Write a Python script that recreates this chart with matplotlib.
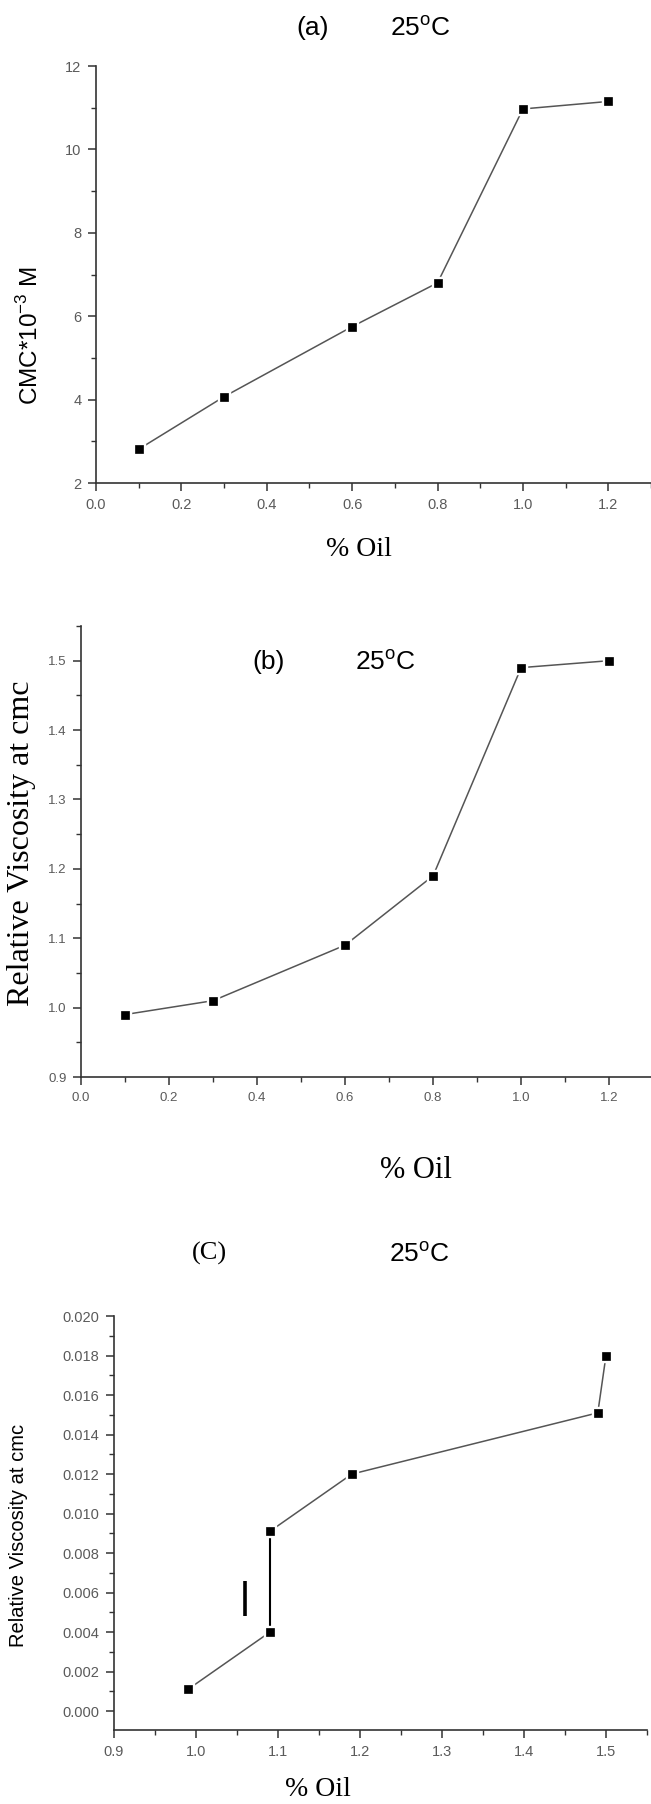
import matplotlib
matplotlib.use("Agg")
import matplotlib.pyplot as plt
from matplotlib import font_manager
from matplotlib.ticker import MultipleLocator, FormatStrFormatter

# ---------------- data ----------------
oil_a = [0.1, 0.3, 0.6, 0.8, 1.0, 1.2]
cmc_a = [2.81, 4.07, 5.75, 6.80, 10.97, 11.15]

oil_b = [0.1, 0.3, 0.6, 0.8, 1.0, 1.2]
visc_b = [0.99, 1.01, 1.09, 1.19, 1.49, 1.50]

oil_c = [0.99, 1.09, 1.09, 1.19, 1.49, 1.50]
visc_c = [0.0011, 0.0040, 0.0091, 0.0120, 0.0151, 0.0180]

stray_x = [1.06, 1.06]
stray_y = [0.0048, 0.0066]

title_labels = ["(a)", "(b)", "(C)"]
temp_label = r"25$^{\mathsf{o}}$C"

# ---------------- fonts ----------------
names = {f.name for f in font_manager.fontManager.ttflist}
narrow = "Liberation Sans Narrow" if "Liberation Sans Narrow" in names else "Liberation Sans"
SANS = "Liberation Sans"
SERIF = "Liberation Serif"

plt.rcParams["font.family"] = [SANS, "DejaVu Sans"]
plt.rcParams["mathtext.fontset"] = "custom"
plt.rcParams["mathtext.rm"] = SANS
plt.rcParams["mathtext.sf"] = narrow

W, H = 651, 1804
fig = plt.figure(figsize=(W / 100, H / 100), dpi=100)


def px_axes(left, right, top, bottom):
    return fig.add_axes([left / W, 1 - bottom / H, (right - left) / W, (bottom - top) / H])


def style(ax, lsize):
    for s in ("top", "right"):
        ax.spines[s].set_visible(False)
    for s in ("left", "bottom"):
        ax.spines[s].set_color("#333333")
        ax.spines[s].set_linewidth(1.2)
    ax.tick_params(which="major", direction="out", length=6, width=1.1,
                   color="#333333", labelsize=lsize, labelcolor="#5a5a5a", pad=4.5)
    ax.tick_params(which="minor", direction="out", length=3.5, width=1.0,
                   color="#333333")
    for lab in ax.get_xticklabels() + ax.get_yticklabels():
        lab.set_fontfamily(SANS)


def draw_series(ax, x, y, lc="#555555"):
    ax.plot(x, y, color=lc, lw=1.1, zorder=2, solid_capstyle="butt")
    ax.plot(x, y, ls="none", marker="s", ms=8.0, mfc="white", mec="white", zorder=3)
    ax.plot(x, y, ls="none", marker="s", ms=5.2, mfc="black", mec="black", mew=0.5, zorder=4)


def ftext(x, y, s, **kw):
    fig.text(x / W, 1 - y / H, s, ha="center", va="center", **kw)


# ---------------- panel (a) ----------------
ax1 = px_axes(96, 651, 66, 483)
draw_series(ax1, oil_a, cmc_a)
ax1.set_xlim(0, 1.3)
ax1.set_ylim(2, 12)
ax1.xaxis.set_major_locator(MultipleLocator(0.2))
ax1.xaxis.set_minor_locator(MultipleLocator(0.1))
ax1.yaxis.set_major_locator(MultipleLocator(2))
ax1.yaxis.set_minor_locator(MultipleLocator(1))
ax1.xaxis.set_major_formatter(FormatStrFormatter("%.1f"))
ax1.yaxis.set_major_formatter(FormatStrFormatter("%d"))
style(ax1, 10.5)

ftext(313, 28, title_labels[0], fontsize=19, family=narrow)
ftext(420, 28, temp_label, fontsize=19, family=narrow)
ftext(30, 336, r"CMC*10$^{\mathrm{-3}}$ M", fontsize=17.5, rotation=90, family=SANS)
ftext(359, 550, "% Oil", fontsize=20, family=SERIF)

# ---------------- panel (b) ----------------
ax2 = px_axes(81, 651, 626, 1077)
draw_series(ax2, oil_b, visc_b)
ax2.set_xlim(0, 1.295)
ax2.set_ylim(0.9, 1.55)
ax2.xaxis.set_major_locator(MultipleLocator(0.2))
ax2.xaxis.set_minor_locator(MultipleLocator(0.1))
ax2.yaxis.set_major_locator(MultipleLocator(0.1))
ax2.yaxis.set_minor_locator(MultipleLocator(0.05))
ax2.xaxis.set_major_formatter(FormatStrFormatter("%.1f"))
ax2.yaxis.set_major_formatter(FormatStrFormatter("%.1f"))
style(ax2, 9.5)

ftext(269, 662, title_labels[1], fontsize=19, family=narrow)
ftext(385, 662, temp_label, fontsize=19, family=narrow)
ftext(22, 843, "Relative Viscosity at cmc", fontsize=23, rotation=90, family=SERIF)
ftext(416, 1170, "% Oil", fontsize=22, family=SERIF)

# ---------------- panel (c) ----------------
ax3 = px_axes(114, 647, 1316, 1730)
draw_series(ax3, oil_c, visc_c)
ax3.plot(oil_c[1:3], visc_c[1:3], color="black", lw=1.5, zorder=2.5)
ax3.plot(stray_x, stray_y, color="black", lw=2.6, solid_capstyle="butt", zorder=2)
ax3.set_xlim(0.9, 1.55)
ax3.set_ylim(-0.00095, 0.020)
ax3.xaxis.set_major_locator(MultipleLocator(0.1))
ax3.xaxis.set_minor_locator(MultipleLocator(0.05))
ax3.yaxis.set_major_locator(MultipleLocator(0.002))
ax3.yaxis.set_minor_locator(MultipleLocator(0.001))
ax3.xaxis.set_major_formatter(FormatStrFormatter("%.1f"))
ax3.yaxis.set_major_formatter(FormatStrFormatter("%.3f"))
style(ax3, 10.5)

ftext(209, 1253, title_labels[2], fontsize=19, family=SERIF)
ftext(419, 1254, temp_label, fontsize=19, family=narrow)
ftext(19, 1535, "Relative Viscosity at cmc", fontsize=14.5, rotation=90, family=SANS)
ftext(318, 1789, "% Oil", fontsize=20, family=SERIF)

fig.savefig("out.png", dpi=100)
